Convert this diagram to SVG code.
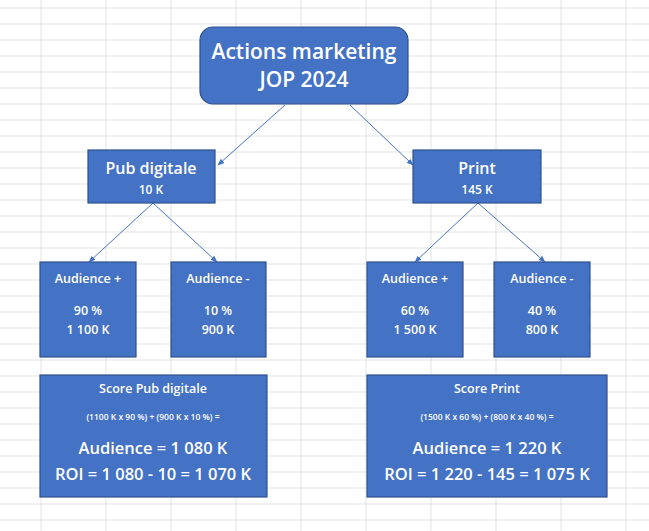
<svg xmlns="http://www.w3.org/2000/svg" width="649" height="531" viewBox="0 0 649 531">
<defs>
<pattern id="grid" width="65" height="16" patternUnits="userSpaceOnUse" x="40.5" y="7.5">
<path d="M0 0H65M0 0V16" fill="none" stroke="#c6c6c6" stroke-width="1"/>
</pattern>
<marker id="ah" viewBox="0 0 10 10" refX="9" refY="5" markerWidth="7" markerHeight="7" orient="auto"><path d="M0 1L10 5L0 9z" fill="#4472C4"/></marker>
</defs>
<style>
.b{fill:#4472C4;stroke:#2F528F;stroke-width:1.2}
text{font-family:"Open Sans",Lato,sans-serif;font-weight:600;fill:#fff;text-anchor:middle}
.c{stroke:#4472C4;stroke-width:1;fill:none;marker-end:url(#ah)}
</style>
<rect width="649" height="531" fill="#fff"/>
<rect width="649" height="531" fill="url(#grid)"/>
<g id="connectors">
<line class="c" x1="285" y1="105" x2="218" y2="165"/>
<line class="c" x1="350" y1="105" x2="413" y2="165"/>
<line class="c" x1="153" y1="203" x2="89" y2="262"/>
<line class="c" x1="153" y1="203" x2="217" y2="262"/>
<line class="c" x1="478" y1="203" x2="415" y2="262"/>
<line class="c" x1="478" y1="203" x2="545" y2="262"/>
</g>
<g id="top"><rect class="b" x="200" y="27" width="208" height="77" rx="13"/>
<text x="304" y="59" font-size="21">Actions marketing</text><text x="304" y="87" font-size="21">JOP 2024</text></g>
<g id="pub"><rect class="b" x="88" y="150" width="127" height="53"/>
<text x="151" y="174" font-size="16">Pub digitale</text><text x="151" y="194" font-size="12">10 K</text></g>
<g id="print"><rect class="b" x="413" y="150" width="128" height="53"/>
<text x="477" y="174" font-size="16">Print</text><text x="477" y="194" font-size="12">145 K</text></g>
<g id="a1"><rect class="b" x="40" y="262" width="96" height="95"/>
<text x="88" y="283" font-size="12.5">Audience +</text><text x="88" y="315" font-size="12.5">90 %</text><text x="88" y="334" font-size="12.5">1 100 K</text></g>
<g id="a2"><rect class="b" x="171" y="262" width="95" height="95"/>
<text x="218" y="283" font-size="12.5">Audience -</text><text x="218" y="315" font-size="12.5">10 %</text><text x="218" y="334" font-size="12.5">900 K</text></g>
<g id="a3"><rect class="b" x="367" y="262" width="96" height="95"/>
<text x="415" y="283" font-size="12.5">Audience +</text><text x="415" y="315" font-size="12.5">60 %</text><text x="415" y="334" font-size="12.5">1 500 K</text></g>
<g id="a4"><rect class="b" x="494" y="262" width="96" height="95"/>
<text x="542" y="283" font-size="12.5">Audience -</text><text x="542" y="315" font-size="12.5">40 %</text><text x="542" y="334" font-size="12.5">800 K</text></g>
<g id="s1"><rect class="b" x="40" y="375" width="227" height="122"/>
<text x="153" y="393" font-size="12.5">Score Pub digitale</text><text x="153" y="420" font-size="8.5" font-weight="400">(1100 K x 90 %) + (900 K x 10 %) =</text>
<text x="153" y="454" font-size="16.5">Audience = 1 080 K</text><text x="153" y="480" font-size="16.5">ROI = 1 080 - 10 = 1 070 K</text></g>
<g id="s2"><rect class="b" x="367" y="375" width="240" height="122"/>
<text x="487" y="393" font-size="12.5">Score Print</text><text x="487" y="420" font-size="8.5" font-weight="400">(1500 K x 60 %) + (800 K x 40 %) =</text>
<text x="487" y="454" font-size="16.5">Audience = 1 220 K</text><text x="487" y="480" font-size="16.5">ROI = 1 220 - 145 = 1 075 K</text></g>
</svg>
